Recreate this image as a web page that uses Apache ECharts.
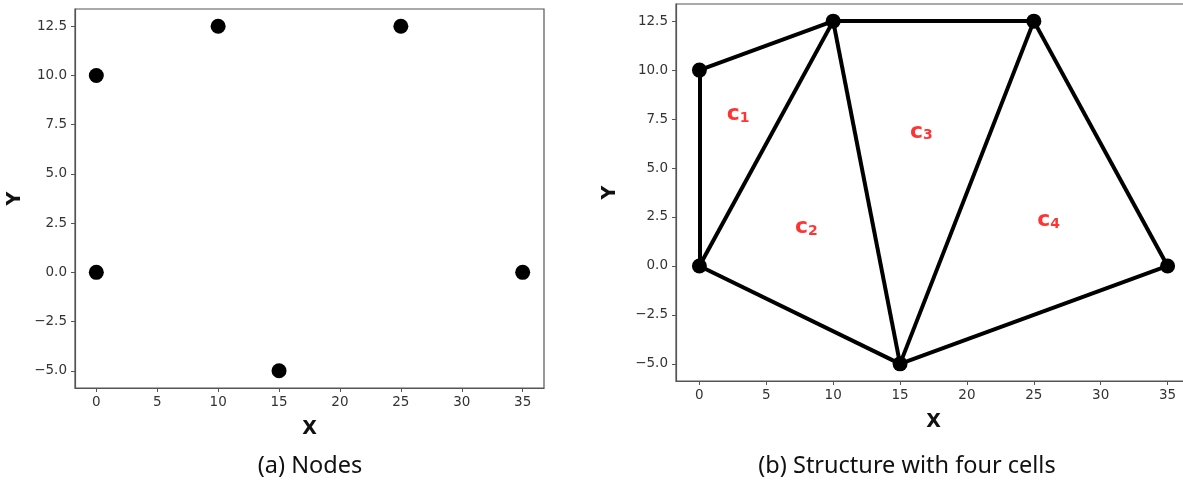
<!DOCTYPE html>
<html>
<head>
<meta charset="utf-8">
<script src="https://cdn.jsdelivr.net/npm/echarts@6/dist/echarts.min.js"></script>
<style>
html,body{margin:0;padding:0;background:#fff;}
#c{width:1183px;height:483px;}
</style>
</head>
<body>
<div id="c"></div>
<script>
// ---- data ----
var nodeX = [0, 0, 10, 25, 35, 15];
var nodeY = [0, 10, 12.5, 12.5, 0, -5];
var edgeFrom = [1, 2, 1, 0, 2, 0, 5, 3, 5];
var edgeTo   = [2, 3, 0, 2, 5, 5, 3, 4, 4];
var cellNames = ['1', '2', '3', '4'];
var cellX = [2.9, 8.0, 16.6, 26.1];
var cellY = [7.8, 2.0, 6.9, 2.4];
var xTicks = [0, 5, 10, 15, 20, 25, 30, 35];
var yTicks = [-5, -2.5, 0, 2.5, 5, 7.5, 10, 12.5];
var captions = ['(a) Nodes', '(b) Structure with four cells'];

var chart = echarts.init(document.getElementById('c'), null, {renderer: 'canvas'});
var spine = '#555';
function fmtY(v){ var s = Math.abs(v).toFixed(1); return v < 0 ? '\u2212' + s : s; }
function xAxisCfg(gi, gap){
  return {
    type: 'value', gridIndex: gi, min: -1.75, max: 36.75,
    name: 'X', nameLocation: 'middle', nameGap: gap,
    nameTextStyle: {fontSize: 19, fontWeight: 'bold', color: '#111', fontFamily: 'DejaVu Sans'},
    axisLine: {show: true, onZero: false, lineStyle: {color: spine, width: 1.2}},
    axisTick: {show: true, length: 4, customValues: xTicks, lineStyle: {color: spine}},
    axisLabel: {customValues: xTicks, color: '#333', fontSize: 13.5, fontFamily: 'DejaVu Sans', margin: 7},
    splitLine: {show: false}
  };
}
function yAxisCfg(gi, gap){
  return {
    type: 'value', gridIndex: gi, min: -5.875, max: 13.375,
    name: 'Y', nameLocation: 'middle', nameGap: gap, nameRotate: 90,
    nameTextStyle: {fontSize: 19, fontWeight: 'bold', color: '#111', fontFamily: 'DejaVu Sans'},
    axisLine: {show: true, onZero: false, lineStyle: {color: spine, width: 1.2}},
    axisTick: {show: true, length: 4, customValues: yTicks, lineStyle: {color: spine}},
    axisLabel: {customValues: yTicks, color: '#333', fontSize: 13.5, fontFamily: 'DejaVu Sans', margin: 8,
      formatter: function(v){ return fmtY(v); }},
    splitLine: {show: false}
  };
}
var nodes = nodeX.map(function(x, i){ return [x, nodeY[i]]; });
var edges = edgeFrom.map(function(a, i){ var b = edgeTo[i]; return {coords: [[nodeX[a], nodeY[a]], [nodeX[b], nodeY[b]]]}; });
var cells = cellX.map(function(x, i){ return {value: [x, cellY[i]], name: cellNames[i]}; });

chart.setOption({
  animation: false,
  backgroundColor: '#fff',
  grid: [
    {left: 75, top: 9, width: 469, height: 379, show: true, borderColor: spine, borderWidth: 1.2, outerBoundsMode: 'none', containLabel: false},
    {left: 676, top: 4, width: 515, height: 377, show: true, borderColor: spine, borderWidth: 1.2, outerBoundsMode: 'none', containLabel: false}
  ],
  xAxis: [xAxisCfg(0, 32), xAxisCfg(1, 32)],
  yAxis: [yAxisCfg(0, 50), yAxisCfg(1, 56)],
  graphic: [
    {type: 'text', style: {text: captions[0], fontSize: 23.5, fontFamily: 'Noto Sans', fill: '#111', textAlign: 'center', textVerticalAlign: 'middle', x: 310, y: 466}},
    {type: 'text', style: {text: captions[1], fontSize: 23.5, fontFamily: 'Noto Sans', fill: '#111', textAlign: 'center', textVerticalAlign: 'middle', x: 907, y: 466}}
  ],
  series: [
    {type: 'scatter', xAxisIndex: 0, yAxisIndex: 0, data: nodes, symbolSize: 15,
     itemStyle: {color: '#000', opacity: 1}, silent: true},
    {type: 'lines', coordinateSystem: 'cartesian2d', xAxisIndex: 1, yAxisIndex: 1, data: edges,
     lineStyle: {color: '#000', width: 4, opacity: 1}, silent: true, z: 2},
    {type: 'scatter', xAxisIndex: 1, yAxisIndex: 1, data: nodes, symbolSize: 15,
     itemStyle: {color: '#000', opacity: 1}, silent: true, z: 3},
    {type: 'scatter', xAxisIndex: 1, yAxisIndex: 1, data: cells, symbolSize: 0, silent: true, z: 4,
     label: {show: true, position: 'inside',
       formatter: function(p){ return '{c|c}{s|' + p.name + '}'; },
       rich: {
         c: {fontSize: 22, fontWeight: 'bold', color: '#ff0000', fontFamily: 'DejaVu Sans', verticalAlign: 'bottom'},
         s: {fontSize: 14, fontWeight: 'bold', color: '#ff0000', fontFamily: 'DejaVu Sans', padding: [10, 0, 0, 0], verticalAlign: 'bottom'}
       }}}
  ]
});
</script>
</body>
</html>
